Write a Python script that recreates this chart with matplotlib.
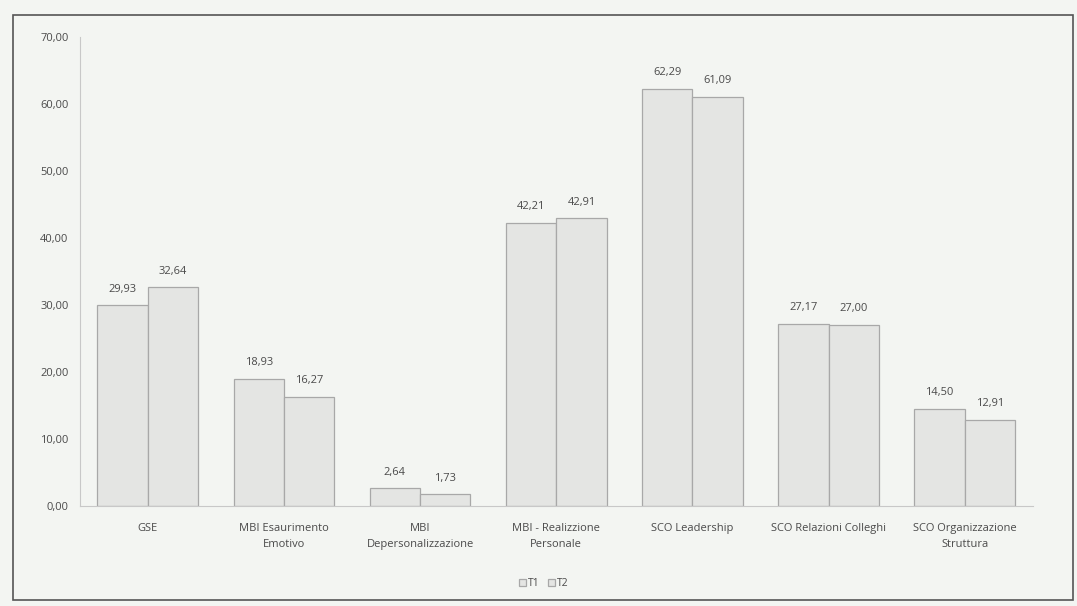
import numpy as np
import matplotlib.pyplot as plt
from matplotlib.patches import Rectangle

# Data
categories = ['GSE', 'MBI Esaurimento\nEmotivo', 'MBI\nDepersonalizzazione',
              'MBI - Realizzione\nPersonale', 'SCO Leadership',
              'SCO Relazioni Colleghi', 'SCO Organizzazione\nStruttura']
t1 = [29.93, 18.93, 2.64, 42.21, 62.29, 27.17, 14.50]
t2 = [32.64, 16.27, 1.73, 42.91, 61.09, 27.00, 12.91]
series_names = ['T1', 'T2']

bg = '#f3f5f2'
txt = '#4a4a4a'

plt.rcParams['font.family'] = ['Open Sans', 'DejaVu Sans']

fig = plt.figure(figsize=(10.77, 6.06), dpi=100, facecolor=bg)
ax = fig.add_axes([0.074, 0.165, 0.885, 0.774])
ax.set_facecolor(bg)

# frame around the chart
fig.patches.append(Rectangle((0.012, 0.01), 0.984, 0.965, transform=fig.transFigure,
                             fill=False, edgecolor='#555555', linewidth=1.2))

x = np.arange(len(categories))
w = 0.37
b1 = ax.bar(x - w/2, t1, w, color='#e4e5e3', edgecolor='#a8a8a8', linewidth=0.9, label=series_names[0])
b2 = ax.bar(x + w/2, t2, w, color='#e4e5e3', edgecolor='#a8a8a8', linewidth=0.9, label=series_names[1])

def fmt(v):
    return f'{v:.2f}'.replace('.', ',')

for bars, vals in [(b1, t1), (b2, t2)]:
    for r, v in zip(bars, vals):
        ax.text(r.get_x() + r.get_width()/2, v + 1.6, fmt(v), ha='center', va='bottom',
                fontsize=8, color=txt)

ax.set_xlim(-0.5, len(categories) - 0.5)
ax.set_ylim(0, 70)
ax.set_yticks(np.arange(0, 71, 10))
ax.set_yticklabels([fmt(v) for v in np.arange(0, 71, 10)], fontsize=8, color=txt)
ax.set_xticks(x)
ax.set_xticklabels(categories, fontsize=8, color=txt, linespacing=1.7)
ax.tick_params(axis='x', length=0, pad=12)
ax.tick_params(axis='y', length=0, pad=8)

for s in ['top', 'right']:
    ax.spines[s].set_visible(False)
ax.spines['left'].set_color('#c8c8c8')
ax.spines['bottom'].set_color('#c8c8c8')

leg = fig.legend(loc='center', bbox_to_anchor=(0.505, 0.037), ncol=2, frameon=False,
                 fontsize=7.5, handlelength=0.7, handleheight=0.7, handletextpad=0.2,
                 columnspacing=0.8, labelcolor=txt)

fig.savefig('out.png', dpi=100, facecolor=bg)
